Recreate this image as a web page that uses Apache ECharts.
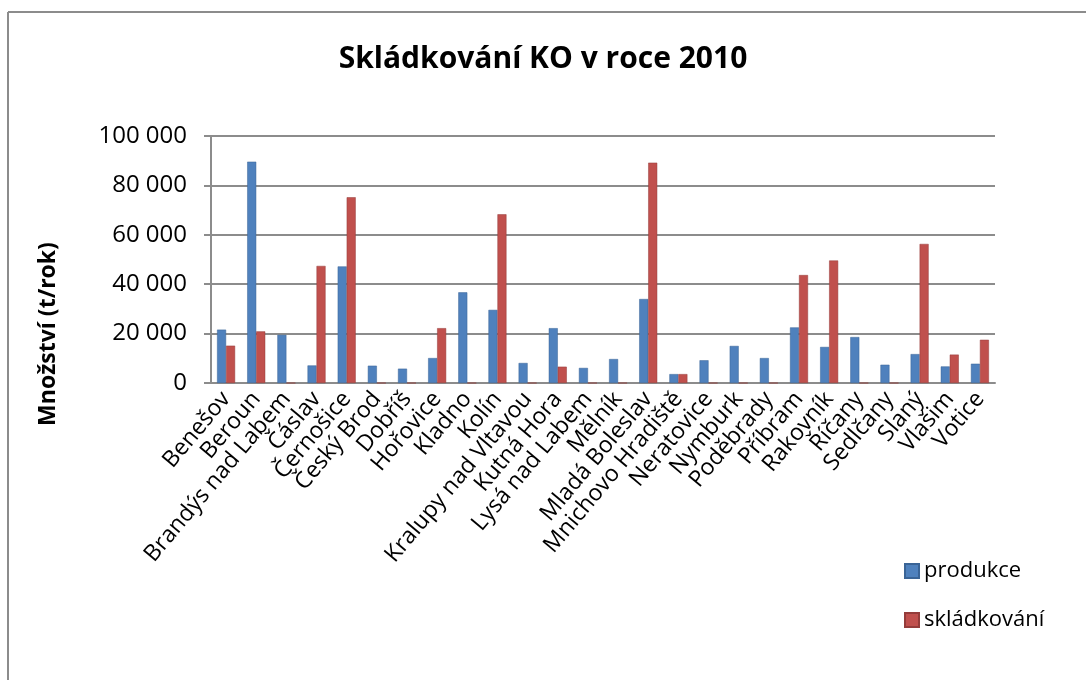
<!DOCTYPE html>
<html>
<head>
<meta charset="utf-8">
<title>Skládkování KO v roce 2010</title>
<script src="https://cdn.jsdelivr.net/npm/echarts@6/dist/echarts.min.js"></script>
<style>
  html, body { margin: 0; padding: 0; background: #fff; }
  #chart { width: 1086px; height: 680px; }
</style>
</head>
<body>
<div id="chart"></div>
<script>
  // obce (ORP) Středočeského kraje
  var towns = ['Benešov', 'Beroun', 'Brandýs nad Labem', 'Čáslav', 'Černošice', 'Český Brod',
    'Dobříš', 'Hořovice', 'Kladno', 'Kolín', 'Kralupy nad Vltavou', 'Kutná Hora',
    'Lysá nad Labem', 'Mělník', 'Mladá Boleslav', 'Mnichovo Hradiště', 'Neratovice',
    'Nymburk', 'Poděbrady', 'Příbram', 'Rakovník', 'Říčany', 'Sedlčany', 'Slaný',
    'Vlašim', 'Votice'];

  // t/rok
  var produkce = [21600, 89600, 19500, 7100, 47200, 7000, 5800, 10100, 36700, 29600,
    8100, 22200, 6100, 9700, 34000, 3600, 9200, 15000, 10100, 22500, 14600, 18600,
    7400, 11700, 6700, 7800];
  var skladkovani = [15100, 20900, 0, 47400, 75200, 0, 0, 22200, 0, 68300,
    0, 6600, 0, 0, 89200, 3600, 0, 0, 0, 43700, 49600, 0,
    0, 56300, 11500, 17500];

  var yTicks = [0, 20000, 40000, 60000, 80000, 100000];

  var chart = echarts.init(document.getElementById('chart'));
  var font = '"Open Sans", "Liberation Sans", sans-serif';
  var gray = '#8c8c8c';

  chart.setOption({
    backgroundColor: '#fff',
    animation: false,
    textStyle: { fontFamily: font, color: '#000' },
    title: {
      text: 'Skládkování KO v roce 2010',
      left: 'center',
      top: 39,
      textStyle: { fontFamily: font, fontSize: 30, fontWeight: 'bold', color: '#000' }
    },
    graphic: [
      { type: 'line', shape: { x1: 8, y1: 12, x2: 1086, y2: 12 }, style: { stroke: gray, lineWidth: 2 } },
      { type: 'line', shape: { x1: 8, y1: 12, x2: 8, y2: 680 }, style: { stroke: gray, lineWidth: 2 } },
      {
        type: 'text', x: 48, y: 334, rotation: Math.PI / 2,
        style: {
          text: 'Množství (t/rok)', fill: '#000', font: 'bold 23px ' + font,
          align: 'center', verticalAlign: 'middle'
        }
      }
    ],
    legend: {
      orient: 'vertical',
      left: 899,
      top: 555,
      icon: 'rect',
      itemWidth: 14,
      itemHeight: 14,
      itemGap: 27,
      textStyle: { fontFamily: font, fontSize: 22, color: '#000' },
      data: ['produkce', 'skládkování']
    },
    grid: { left: 211, right: 91, top: 136, bottom: 297 },
    xAxis: {
      type: 'category',
      data: towns,
      axisLine: { lineStyle: { color: gray, width: 2 } },
      axisTick: { length: 6, lineStyle: { color: gray, width: 2 } },
      axisLabel: { rotate: 50, fontSize: 23, color: '#000', margin: 12, interval: 0 }
    },
    yAxis: {
      type: 'value',
      min: yTicks[0],
      max: yTicks[yTicks.length - 1],
      interval: 20000,
      axisLine: { show: true, lineStyle: { color: gray, width: 2 } },
      axisTick: { show: true, length: 7, lineStyle: { color: gray, width: 2 } },
      axisLabel: {
        fontSize: 24, color: '#000', margin: 24,
        formatter: function (v) { return String(v).replace(/\B(?=(\d{3})+(?!\d))/g, ' '); }
      },
      splitLine: { lineStyle: { color: gray, width: 2 } }
    },
    series: [
      {
        name: 'produkce', type: 'bar', data: produkce, barWidth: 9, barGap: '0%',
        itemStyle: { color: '#4f81bd', borderColor: '#3a6496', borderWidth: 0.5 }
      },
      {
        name: 'skládkování', type: 'bar', data: skladkovani, barWidth: 9,
        itemStyle: { color: '#c0504d', borderColor: '#943c3a', borderWidth: 0.5 }
      }
    ]
  });
</script>
</body>
</html>
